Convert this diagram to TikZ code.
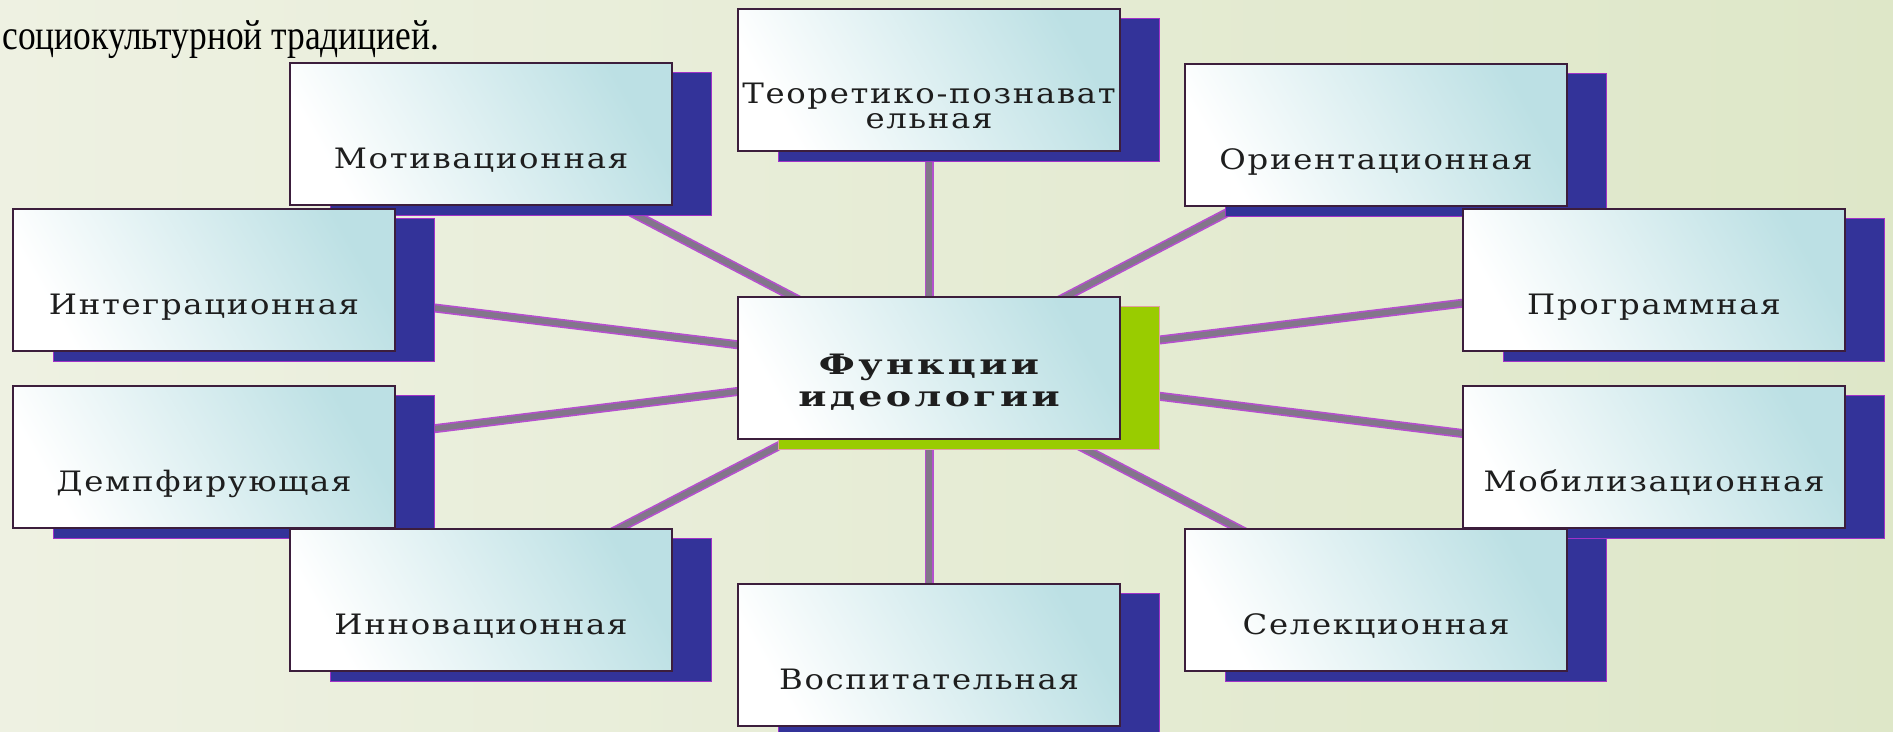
\documentclass[tikz,border=0pt]{standalone}
\usepackage{fontspec}
\setmainfont{Liberation Serif}
\newfontfamily\introfont[FakeStretch=0.84]{Liberation Serif}
\newfontfamily\boxfont[FakeStretch=1.15,LetterSpace=6]{DejaVu Serif}
\newfontfamily\hubfont[FakeStretch=1.35,LetterSpace=12]{DejaVu Serif}
\usepackage{tikz}
\usetikzlibrary{shadows, backgrounds}
\usepackage{xcolor}

\definecolor{bgleft}{RGB}{238,241,226}
\definecolor{bgright}{RGB}{222,231,200}
\definecolor{boxcyan}{RGB}{188,224,228}
\definecolor{boxline}{RGB}{60,30,60}
\definecolor{shadowblue}{RGB}{51,51,153}
\definecolor{shadowedge}{RGB}{160,50,200}
\definecolor{shadowgreen}{RGB}{153,204,0}
\definecolor{hubedge}{RGB}{225,160,160}
\definecolor{linkpurple}{RGB}{180,80,205}
\definecolor{linkgrey}{RGB}{130,118,138}
\definecolor{textdark}{RGB}{30,30,30}

\begin{document}
\begin{tikzpicture}[
  x=0.02cm, y=-0.02cm,
  card/.style={draw=boxline, line width=0.04cm, minimum width=7.64cm, minimum height=2.86cm, inner sep=0pt, align=center, text=textdark, left color=white, right color=boxcyan, shading angle=120},
  func/.style={card, font=\boxfont\fontsize{16}{14}\selectfont, text height=2.12cm, text depth=0.74cm,
    drop shadow={fill=shadowblue, draw=shadowedge, line width=0.02cm, opacity=1, shadow xshift=0.8cm, shadow yshift=-0.2cm}},
  funcTwo/.style={func, text height=2.40cm, text depth=0.46cm},
  hub/.style={card, font=\hubfont\bfseries\fontsize{16}{18}\selectfont, text height=2.20cm, text depth=0.66cm,
    drop shadow={fill=shadowgreen, draw=hubedge, line width=0.02cm, opacity=1, shadow xshift=0.8cm, shadow yshift=-0.2cm}},
  link/.style={draw=linkpurple, line width=0.035cm, double=linkgrey, double distance=0.11cm}
]
\useasboundingbox (0,0) rectangle (1893,732);

% текст слайда
\node[anchor=base west, font=\introfont\fontsize{24}{28}\selectfont, inner sep=0pt] (intro) at (2,50) {социокультурной традицией.};

% верхний ряд
\node[funcTwo] (teor)   at (929,80)  {Теоретико-познават\\ельная};
\node[func]    (motiv)  at (481,134) {Мотивационная};
\node[func]    (orient) at (1376,135) {Ориентационная};

% средний ряд
\node[func] (integr) at (204,280)  {Интеграционная};
\node[func] (progr)  at (1654,280) {Программная};
\node[hub]  (hub)    at (929,368)  {Функции\\идеологии};
\node[func] (demp)   at (204,457)  {Демпфирующая};
\node[func] (mobil)  at (1654,457) {Мобилизационная};

% нижний ряд
\node[func] (innov)  at (481,600)  {Инновационная};
\node[func] (select) at (1376,600) {Селекционная};
\node[func] (vosp)   at (929,655)  {Воспитательная};

% фон и связи под блоками
\begin{scope}[on background layer]
  \fill[left color=bgleft, right color=bgright] (0,0) rectangle (1893,732);
  \foreach \n in {teor, motiv, orient, integr, progr, demp, mobil, innov, select, vosp}
    \draw[link] (hub.center) -- (\n.center);
\end{scope}
\end{tikzpicture}
\end{document}
